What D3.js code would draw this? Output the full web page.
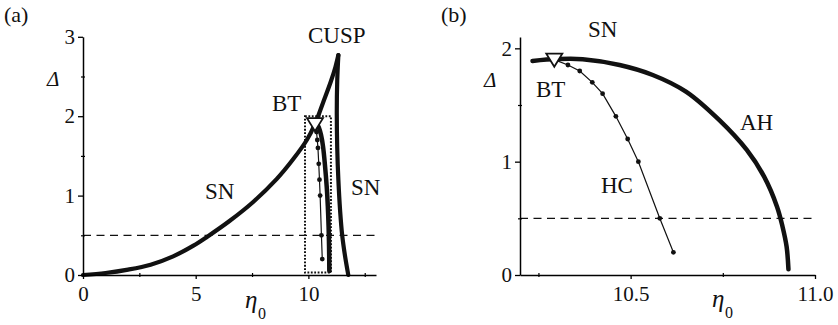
<!DOCTYPE html>
<html>
<head>
<meta charset="utf-8">
<script src="https://cdn.jsdelivr.net/npm/d3@7"></script>
<style>
  body { margin: 0; background: #fff; }
  svg text { font-family: "Liberation Serif", "Times New Roman", serif; fill: #111; }
</style>
</head>
<body>
<div id="chart"></div>
<script>
// SN curve, left branch (from origin up to the cusp)
const snLeftEta   = [0, 1, 2, 3, 4, 4.9, 5.5, 6.5, 7.55, 8.6, 9.33, 9.93, 10.29, 10.65, 11.0, 11.2, 11.33]
const snLeftDelta = [0, 0.025, 0.068, 0.13, 0.235, 0.37, 0.48, 0.68, 0.92, 1.21, 1.46, 1.70, 1.90, 2.17, 2.44, 2.62, 2.77]
// SN curve, right branch (cusp down to the axis)
const snRightEta   = [11.33, 11.28, 11.26, 11.28, 11.33, 11.41, 11.5, 11.62, 11.77]
const snRightDelta = [2.77, 2.45, 2.05, 1.6, 1.2, 0.8, 0.5, 0.25, 0]
// AH curve
const ahEta   = [10.234, 10.30, 10.37, 10.47, 10.56, 10.65, 10.74, 10.815, 10.862, 10.897, 10.912, 10.923, 10.928]
const ahDelta = [1.889, 1.905, 1.904, 1.853, 1.765, 1.618, 1.368, 1.103, 0.868, 0.603, 0.426, 0.25, 0.05]
// HC curve (computed points, first one is BT)
const hcEta   = [10.293, 10.33, 10.362, 10.396, 10.424, 10.46, 10.492, 10.521, 10.579, 10.616]
const hcDelta = [1.90, 1.853, 1.80, 1.70, 1.60, 1.40, 1.20, 1.00, 0.50, 0.20]
// BT point
const btEta = 10.293, btDelta = 1.90
// reference level and zoom box
const dashDelta = 0.5
const boxEta = [9.85, 11.0], boxDelta = [0.03, 2.0]

// ticks
const aXMajor = [0, 5, 10], aXMinor = [2.5, 7.5, 12.5]
const aYMajor = [0, 1, 2, 3], aYMinor = [0.5, 1.5, 2.5]
const bXMajor = [10.5, 11.0], bXMinor = [10.25, 10.75]
const bYMajor = [0, 1, 2], bYMinor = [0.5, 1.5]

const svg = d3.select("#chart").append("svg")
    .attr("width", 838).attr("height", 325)

// scales
const xa = d3.scaleLinear().domain([0, 13]).range([83, 376])
const ya = d3.scaleLinear().domain([0, 3]).range([275, 36.8])
const xb = d3.scaleLinear().domain([10.2, 11.0]).range([520, 815])
const yb = d3.scaleLinear().domain([0, 2.1]).range([275, 37])

function pts(etas, deltas){ return etas.map((e, i) => [e, deltas[i]]) }

function drawAxes(x, y, xMajor, xMinor, yMajor, yMinor, xFmt){
    let gx = svg.append("g").attr("transform", "translate(0," + y.range()[0] + ")")
        .call(d3.axisBottom(x).tickValues(xMajor).tickSize(4).tickSizeOuter(0).tickPadding(7).tickFormat(xFmt))
    gx.select(".domain").attr("stroke-width", 1.5)
    gx.selectAll(".tick line").attr("stroke-width", 1.3)
    gx.selectAll("text").attr("font-size", 21).attr("fill", "#111")
    svg.append("g").attr("transform", "translate(0," + (y.range()[0] - 2) + ")")
        .call(d3.axisBottom(x).tickValues(xMinor).tickSize(4).tickFormat(""))
        .call(g => g.select(".domain").remove())
        .selectAll(".tick line").attr("stroke-width", 1.2)

    let gy = svg.append("g").attr("transform", "translate(" + x.range()[0] + ",0)")
        .call(d3.axisLeft(y).tickValues(yMajor).tickSize(5).tickSizeOuter(0).tickPadding(3).tickFormat(d3.format("d")))
    gy.select(".domain").attr("stroke-width", 1.5)
    gy.selectAll(".tick line").attr("stroke-width", 1.3)
    gy.selectAll("text").attr("font-size", 21).attr("fill", "#111")
    svg.append("g").attr("transform", "translate(" + (x.range()[0] + 2) + ",0)")
        .call(d3.axisLeft(y).tickValues(yMinor).tickSize(4).tickFormat(""))
        .call(g => g.select(".domain").remove())
        .selectAll(".tick line").attr("stroke-width", 1.2)
}

function drawCurves(x, y, showSN){
    let line = d3.line().x(d => x(d[0])).y(d => y(d[1]))
    let smooth = d3.line().x(d => x(d[0])).y(d => y(d[1])).curve(d3.curveCatmullRom)

    // dashed reference line
    svg.append("line")
        .attr("x1", x.range()[0]).attr("x2", x.range()[1])
        .attr("y1", y(dashDelta)).attr("y2", y(dashDelta))
        .attr("stroke", "#111").attr("stroke-width", 1.3).attr("stroke-dasharray", "8,5.5")

    if(showSN){
        svg.append("rect")
            .attr("x", x(boxEta[0])).attr("y", y(boxDelta[1]))
            .attr("width", x(boxEta[1]) - x(boxEta[0]))
            .attr("height", y(boxDelta[0]) - y(boxDelta[1]))
            .attr("fill", "none").attr("stroke", "#111")
            .attr("stroke-width", 2).attr("stroke-dasharray", "1.8,1.6")
        svg.append("path").attr("d", smooth(pts(snLeftEta, snLeftDelta)))
            .attr("fill", "none").attr("stroke", "#111").attr("stroke-width", 4.2)
            .attr("stroke-linecap", "round")
        svg.append("path").attr("d", smooth(pts(snRightEta, snRightDelta)))
            .attr("fill", "none").attr("stroke", "#111").attr("stroke-width", 4.2)
            .attr("stroke-linecap", "round")
    }

    // AH
    svg.append("path").attr("d", smooth(pts(ahEta, ahDelta)))
        .attr("fill", "none").attr("stroke", "#111").attr("stroke-width", 4.5)
        .attr("stroke-linecap", "round")

    // HC with its computed points
    let hc = pts(hcEta, hcDelta)
    svg.append("path").attr("d", line(hc))
        .attr("fill", "none").attr("stroke", "#111").attr("stroke-width", 1.2)
    svg.append("g").selectAll("circle")
        .data(hc.slice(1))
        .enter()
        .append("circle")
        .attr("cx", d => x(d[0])).attr("cy", d => y(d[1]))
        .attr("r", 2.4).attr("fill", "#111")

    // BT marker
    let cx = x(btEta), cy = y(btDelta)
    svg.append("path")
        .attr("d", "M" + (cx - 8) + "," + (cy - 6) + "L" + (cx + 8) + "," + (cy - 6) + "L" + cx + "," + (cy + 7) + "Z")
        .attr("fill", "#fff").attr("stroke", "#111").attr("stroke-width", 1.8)
        .attr("stroke-linejoin", "miter")
}

function label(txt, x, y, size, italic){
    return svg.append("text").attr("x", x).attr("y", y).attr("font-size", size)
        .attr("font-style", italic ? "italic" : "normal").text(txt)
}

function etaLabel(x, y){
    label("\u03b7", x, y, 25, true)
    label("0", x + 13, y + 11, 16, false)
}

// panel (a)
drawCurves(xa, ya, true)
drawAxes(xa, ya, aXMajor, aXMinor, aYMajor, aYMinor, d3.format("d"))
label("(a)", 4, 22, 22)
label("CUSP", 308, 42.5, 23)
label("BT", 272, 110.5, 23)
label("SN", 205, 199, 23)
label("SN", 351, 195, 23)
label("\u0394", 47, 86, 21, true)
etaLabel(245, 308)

// panel (b)
drawCurves(xb, yb, false)
drawAxes(xb, yb, bXMajor, bXMinor, bYMajor, bYMinor, d3.format(".1f"))
label("(b)", 441, 22, 22)
label("SN", 588, 37, 23)
label("BT", 536, 96.5, 23)
label("AH", 740, 129.5, 23)
label("HC", 601, 192.5, 23)
label("\u0394", 484, 87, 21, true)
etaLabel(712, 307)
</script>
</body>
</html>
